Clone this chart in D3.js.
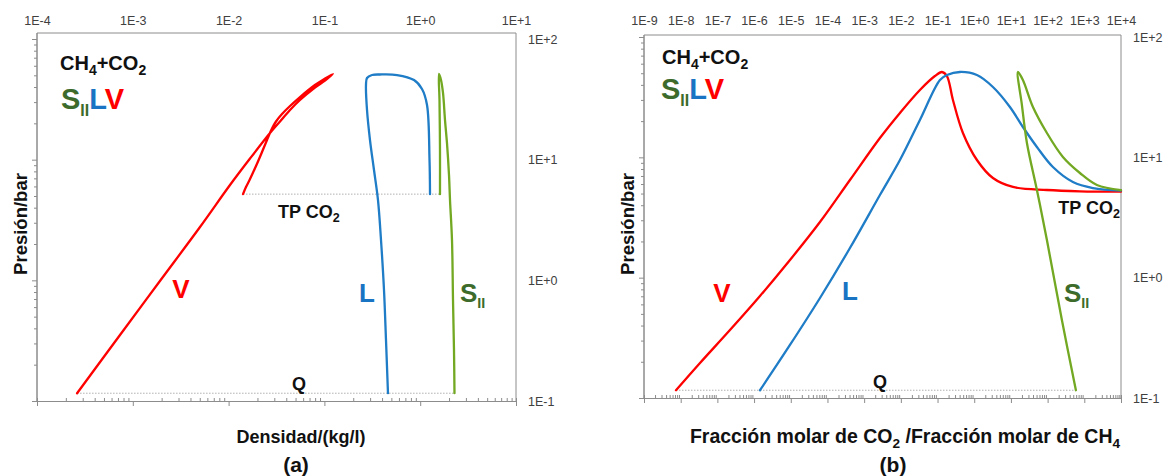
<!DOCTYPE html>
<html>
<head>
<meta charset="utf-8">
<script src="https://cdn.jsdelivr.net/npm/d3@7"></script>
<style>
  body { margin: 0; background: #fff; }
  svg { display: block; }
  text { font-family: "Liberation Sans", Arial, sans-serif; }
</style>
</head>
<body>
<svg id="chart" width="1167" height="476"></svg>
<script>
// ---- Axis ticks -------------------------------------------------------
const densDecades = [1e-4, 1e-3, 1e-2, 1e-1, 1, 10];
const densDecadeLabels = ["1E-4", "1E-3", "1E-2", "1E-1", "1E+0", "1E+1"];
const ratioDecades = [1e-9, 1e-8, 1e-7, 1e-6, 1e-5, 1e-4, 1e-3, 1e-2, 1e-1, 1, 10, 100, 1000, 10000];
const ratioDecadeLabels = ["1E-9", "1E-8", "1E-7", "1E-6", "1E-5", "1E-4", "1E-3", "1E-2", "1E-1", "1E+0", "1E+1", "1E+2", "1E+3", "1E+4"];
const presDecades = [0.1, 1, 10, 100];
const presDecadeLabels = ["1E-1", "1E+0", "1E+1", "1E+2"];

// Reference pressures (bar)
const pTripleCO2 = 5.18;
const pQuadQ = 0.116;

// ---- Panel (a): pressure vs density (kg/l) -----------------------------
// V branch: gas line up to the upper tip, then back down to TP CO2
const aV_dens = [2.62e-4, 7.35e-4, 1.92e-3, 5.03e-3, 0.01034, 0.01673, 0.02705, 0.0344, 0.04374, 0.05563, 0.0797, 0.1015, 0.1229,
                 0.1015, 0.0797, 0.05563, 0.04374, 0.0361, 0.03125, 0.02838, 0.02517, 0.02232, 0.01932, 0.01673, 0.01519, 0.01414];
const aV_pres = [0.116, 0.352, 0.987, 2.767, 6.166, 10.22, 16.63, 20.72, 25.79, 31.22, 39.63, 45.29, 51.3,
                 47.06, 41.56, 33.05, 27.85, 23.89, 20.72, 18.12, 14.55, 11.57, 8.86, 6.91, 5.93, 5.18];
// L branch
const aL_dens = [1.266, 1.251, 1.178, 1.044, 0.862, 0.573, 0.380, 0.314, 0.2785, 0.2717, 0.2785, 0.2992, 0.3294, 0.3626, 0.3898, 0.4189, 0.4395, 0.461];
const aL_pres = [5.18, 9.94, 28.4, 38.5, 45.7, 50.3, 50.8, 50.3, 47.5, 41.6, 25.8, 14.55, 8.21, 4.63, 2.16, 0.832, 0.320, 0.116];
// S_II branch
const aS_dens = [1.609, 1.609, 1.590, 1.571, 1.648, 1.730, 1.815, 1.904, 1.998, 2.047, 2.147, 2.200, 2.253, 2.280];
const aS_pres = [5.18, 12.0, 31.2, 51.3, 45.7, 35.7, 21.3, 13.7, 7.46, 4.63, 2.16, 0.687, 0.265, 0.116];

// ---- Panel (b): pressure vs x(CO2)/x(CH4) ------------------------------
const bV_ratio = [7.44e-9, 3.36e-8, 2.20e-7, 1.45e-6, 9.51e-6, 6.25e-5, 4.10e-4, 2.69e-3, 9.45e-3, 0.0331, 0.0849, 0.1318,
                  0.1804, 0.2628, 0.492, 1.185, 3.232, 11.34, 95.7, 759, 10000];
const bV_pres = [0.116, 0.1954, 0.367, 0.704, 1.402, 2.90, 6.48, 14.48, 23.4, 36.3, 47.4, 51.2,
                 47.4, 29.96, 15.93, 9.50, 6.73, 5.67, 5.35, 5.22, 5.18];
const bL_ratio = [1.45e-6, 9.51e-6, 6.25e-5, 4.10e-4, 2.69e-3, 9.45e-3, 0.0331, 0.1163, 0.1804, 0.4076, 1.185, 3.232,
                  9.39, 21.2, 51.1, 139.5, 489, 1715, 10000];
const bL_pres = [0.116, 0.2758, 0.6776, 1.764, 4.865, 9.50, 20.43, 43.9, 48.3, 51.2, 48.3, 38.4,
                 26.2, 17.87, 12.19, 8.31, 6.24, 5.56, 5.30];
const bS_ratio = [590, 245, 95.7, 51.1, 27.3, 19.94, 15.51, 21.2, 39.8, 95.7, 261, 759, 2204, 10000];
const bS_pres = [0.116, 0.4447, 2.056, 5.35, 13.16, 27.2, 51.2, 43.9, 26.2, 15.93, 10.07, 7.41, 5.89, 5.35];

// ---- Styling ----------------------------------------------------------
const RED = "#ff0000", BLUE = "#1f7cc6", GREEN = "#72a822";
const GREEN_TXT = "#3d6b2b", BLUE_TXT = "#1a74c4", AXIS = "#8c8c8c", TICKTXT = "#404040";

const svg = d3.select("#chart");

function minorTicks(domain) {
  const lo = Math.round(Math.log10(domain[0])), hi = Math.round(Math.log10(domain[1]));
  const out = [];
  for (let e = lo; e < hi; e++) for (let k = 2; k <= 9; k++) out.push(k * Math.pow(10, e));
  return out;
}

function zip(a, b) { return a.map((v, i) => [v, b[i]]); }

function panel(cfg) {
  const g = svg.append("g");
  const x = d3.scaleLog().domain(cfg.xDomain).range([cfg.left, cfg.right]);
  const y = d3.scaleLog().domain([0.1, 100]).range([cfg.bottom, cfg.y100]);

  // frame (top and right)
  g.append("path")
    .attr("d", `M${cfg.left},${cfg.top}H${cfg.right}V${cfg.bottom}`)
    .attr("fill", "none").attr("stroke", AXIS).attr("stroke-width", 1);

  // bottom axis: major ticks down, minor ticks up
  const bx = g.append("g").attr("transform", `translate(0,${cfg.bottom})`);
  bx.call(d3.axisBottom(x).tickValues(cfg.xMajor).tickSize(5).tickFormat(""));
  bx.call(g2 => g2.append("g").call(d3.axisBottom(x).tickValues(minorTicks(cfg.xDomain)).tickSize(-3).tickFormat("")));
  bx.selectAll("path.domain").attr("stroke", AXIS);
  bx.selectAll("line").attr("stroke", AXIS);

  // left axis
  const ly = g.append("g").attr("transform", `translate(${cfg.left},0)`);
  ly.call(d3.axisLeft(y).tickValues(presDecades).tickSize(5).tickFormat(""));
  ly.call(g2 => g2.append("g").call(d3.axisLeft(y).tickValues(minorTicks([0.1, 100])).tickSize(3).tickFormat("")));
  ly.selectAll("path.domain").attr("stroke", AXIS).attr("d", `M0,${cfg.bottom}V${cfg.top}`);
  ly.selectAll("line").attr("stroke", AXIS);

  // top decade labels
  const tx = g.append("g").attr("transform", `translate(0,${cfg.topLabelY})`);
  tx.call(d3.axisTop(x).tickValues(cfg.xMajor).tickSize(0).tickPadding(0)
          .tickFormat((d, i) => cfg.xLabels[i]));
  tx.select("path.domain").remove();
  tx.selectAll("text").attr("font-size", 12.5).attr("fill", TICKTXT)
    .attr("font-family", '"Liberation Sans", Arial, sans-serif');

  // right pressure labels
  const ry = g.append("g").attr("transform", `translate(${cfg.right + 10},0)`);
  ry.call(d3.axisRight(y).tickValues(presDecades).tickSize(0).tickPadding(2)
          .tickFormat((d, i) => presDecadeLabels[i]));
  ry.select("path.domain").remove();
  ry.selectAll("text").attr("font-size", 12.5).attr("fill", TICKTXT)
    .attr("font-family", '"Liberation Sans", Arial, sans-serif');

  return { g, x, y };
}

const A = panel({
  xDomain: [1e-4, 10], left: 37, right: 516, top: 33, bottom: 401, y100: 39,
  xMajor: densDecades, xLabels: densDecadeLabels, topLabelY: 25
});
const B = panel({
  xDomain: [1e-9, 1e4], left: 644, right: 1121, top: 35, bottom: 398, y100: 37,
  xMajor: ratioDecades, xLabels: ratioDecadeLabels, topLabelY: 25
});

// dotted reference lines
function hline(P, p, v0, v1) {
  P.g.append("line")
    .attr("x1", P.x(v0)).attr("x2", P.x(v1)).attr("y1", P.y(p)).attr("y2", P.y(p))
    .attr("stroke", "#b0b0b0").attr("stroke-width", 1).attr("stroke-dasharray", "1.5,1.5");
}
hline(A, pTripleCO2, aV_dens[aV_dens.length - 1], aS_dens[0]);
hline(A, pQuadQ, aV_dens[0], aS_dens[aS_dens.length - 1]);
hline(B, pQuadQ, bV_ratio[0], bS_ratio[0]);

function curve(P, xs, ys, color) {
  const line = d3.line().x(d => P.x(d[0])).y(d => P.y(d[1])).curve(d3.curveCatmullRom.alpha(0.5));
  P.g.append("path").attr("d", line(zip(xs, ys)))
    .attr("fill", "none").attr("stroke", color).attr("stroke-width", 2.3)
    .attr("stroke-linejoin", "round").attr("stroke-linecap", "round");
}
curve(A, aV_dens, aV_pres, RED);
curve(A, aL_dens, aL_pres, BLUE);
curve(A, aS_dens, aS_pres, GREEN);
curve(B, bV_ratio, bV_pres, RED);
curve(B, bL_ratio, bL_pres, BLUE);
curve(B, bS_ratio, bS_pres, GREEN);

// ---- Text -------------------------------------------------------------
function rich(parent, x, y, parts, size, anchor) {
  const t = parent.append("text").attr("x", x).attr("y", y)
    .attr("font-size", size).attr("font-weight", "bold").attr("text-anchor", anchor || "start");
  let shift = 0;
  parts.forEach(p => {
    const s = t.append("tspan").text(p.t).attr("fill", p.c || "#111");
    const want = p.sub ? size * 0.24 : 0;
    if (want !== shift) { s.attr("dy", want - shift); shift = want; }
    if (p.sub) s.attr("font-size", size * (p.scale || 0.7));
  });
  return t;
}

function labels(P, o) {
  rich(P.g, o.cx, o.cy, [{ t: "CH" }, { t: "4", sub: 1 }, { t: "+CO" }, { t: "2", sub: 1 }], 20);
  rich(P.g, o.sx, o.sy, [{ t: "S", c: GREEN_TXT }, { t: "II", c: GREEN_TXT, sub: 1, scale: 0.55 },
                         { t: "L", c: BLUE_TXT }, { t: "V", c: RED }], 29);
  rich(P.g, o.vx, o.vy, [{ t: "V", c: RED }], 26, "middle");
  rich(P.g, o.lx, o.ly, [{ t: "L", c: BLUE_TXT }], 26, "middle");
  rich(P.g, o.ssx, o.ssy, [{ t: "S", c: GREEN_TXT }, { t: "II", c: GREEN_TXT, sub: 1, scale: 0.55 }], 26, "start");
  rich(P.g, o.qx, o.qy, [{ t: "Q" }], 18, "middle");
  rich(P.g, o.tpx, o.tpy, [{ t: "TP CO" }, { t: "2", sub: 1 }], 18, o.tpAnchor);
  P.g.append("text").attr("transform", `translate(${o.yt},${o.ytY}) rotate(-90)`)
    .attr("text-anchor", "middle").attr("font-size", 18.5).attr("font-weight", "bold").attr("fill", "#111")
    .text("Presión/bar");
}

labels(A, { cx: 60, cy: 70, sx: 61, sy: 109, vx: 181, vy: 298, lx: 367, ly: 302, ssx: 460, ssy: 302,
            qx: 299, qy: 390, tpx: 278, tpy: 218, tpAnchor: "start", yt: 27, ytY: 224 });
labels(B, { cx: 662, cy: 64, sx: 661, sy: 99, vx: 722, vy: 302, lx: 850, ly: 300, ssx: 1064, ssy: 302,
            qx: 880, qy: 388, tpx: 1120, tpy: 214, tpAnchor: "end", yt: 634, ytY: 224 });

// x-axis titles
rich(A.g, 301, 443, [{ t: "Densidad/(kg/l)" }], 18, "middle");
rich(B.g, 905, 443, [{ t: "Fracción molar de CO" }, { t: "2", sub: 1 }, { t: " /Fracción molar de CH" }, { t: "4", sub: 1 }], 19.5, "middle");

// panel tags
svg.append("text").attr("x", 296).attr("y", 472).attr("text-anchor", "middle")
  .attr("font-family", '"DejaVu Serif", serif').attr("font-weight", "bold").attr("font-size", 21)
  .attr("fill", "#111").text("(a)");
svg.append("text").attr("x", 893).attr("y", 472).attr("text-anchor", "middle")
  .attr("font-family", '"DejaVu Serif", serif').attr("font-weight", "bold").attr("font-size", 21)
  .attr("fill", "#111").text("(b)");
</script>
</body>
</html>
